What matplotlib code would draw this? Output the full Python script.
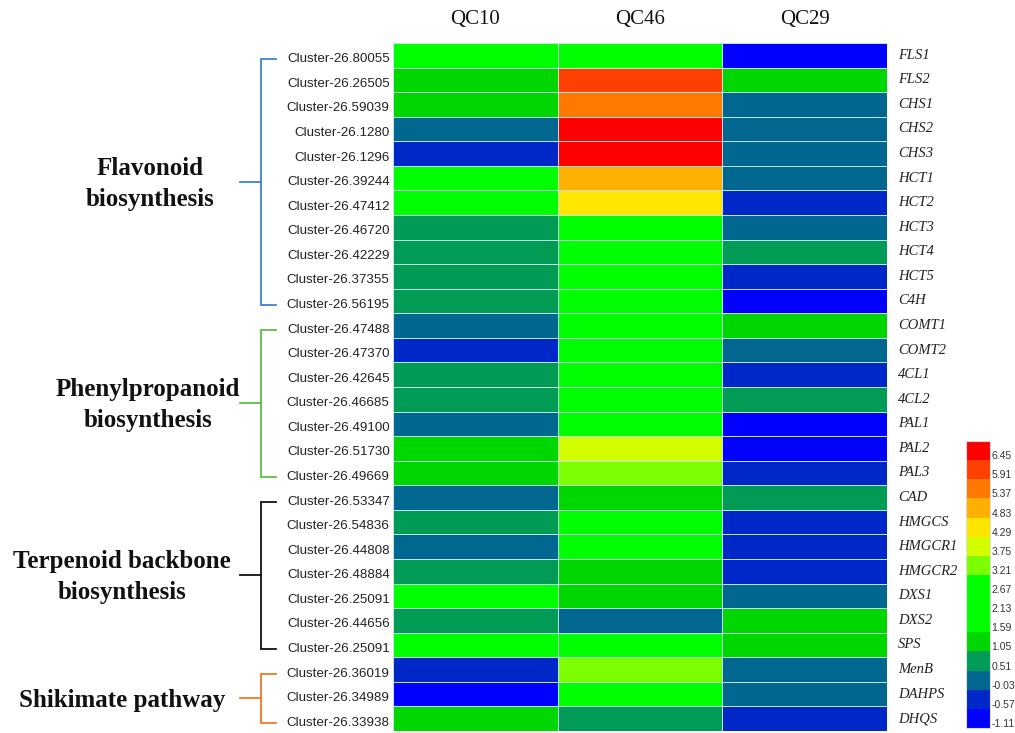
import numpy as np
import matplotlib
matplotlib.use("Agg")
import matplotlib.pyplot as plt
from matplotlib.colors import ListedColormap, BoundaryNorm
from matplotlib.transforms import ScaledTranslation

# ---------------- data ----------------
samples = ["QC10", "QC46", "QC29"]
clusters = ["Cluster-26.80055", "Cluster-26.26505", "Cluster-26.59039", "Cluster-26.1280",
            "Cluster-26.1296", "Cluster-26.39244", "Cluster-26.47412", "Cluster-26.46720",
            "Cluster-26.42229", "Cluster-26.37355", "Cluster-26.56195", "Cluster-26.47488",
            "Cluster-26.47370", "Cluster-26.42645", "Cluster-26.46685", "Cluster-26.49100",
            "Cluster-26.51730", "Cluster-26.49669", "Cluster-26.53347", "Cluster-26.54836",
            "Cluster-26.44808", "Cluster-26.48884", "Cluster-26.25091", "Cluster-26.44656",
            "Cluster-26.25091", "Cluster-26.36019", "Cluster-26.34989", "Cluster-26.33938"]
genes = ["FLS1", "FLS2", "CHS1", "CHS2", "CHS3", "HCT1", "HCT2", "HCT3", "HCT4", "HCT5",
         "C4H", "COMT1", "COMT2", "4CL1", "4CL2", "PAL1", "PAL2", "PAL3", "CAD", "HMGCS",
         "HMGCR1", "HMGCR2", "DXS1", "DXS2", "SPS", "MenB", "DAHPS", "DHQS"]
qc10 = [2.40, 1.30, 1.35, 0.20, -0.30, 2.30, 2.35, 0.80, 0.75, 0.80, 0.78, 0.22, -0.32, 0.80,
        0.78, 0.25, 1.30, 1.32, 0.20, 0.78, 0.22, 0.80, 2.30, 0.80, 2.35, -0.30, -0.85, 1.30]
qc46 = [2.30, 6.20, 5.60, 6.75, 6.70, 5.10, 4.55, 2.40, 2.40, 2.35, 2.30, 2.40, 2.35, 2.40,
        2.30, 2.40, 4.00, 3.50, 1.30, 2.30, 2.40, 1.35, 1.30, 0.22, 2.35, 3.45, 2.30, 0.80]
qc29 = [-0.85, 1.30, 0.22, 0.20, 0.24, 0.22, -0.30, 0.20, 0.78, -0.32, -0.86, 1.32, 0.22,
        -0.30, 0.80, -0.85, -0.88, -0.30, 0.78, -0.30, -0.32, -0.30, 0.22, 1.30, 1.32, 0.24,
        0.20, -0.30]
cbar_edges = [-1.11, -0.57, -0.03, 0.51, 1.05, 1.59, 2.13, 2.67, 3.21, 3.75, 4.29, 4.83,
              5.37, 5.91, 6.45, 6.99]
bin_colors = ["#0000FF", "#0028C8", "#006890", "#009B55", "#00D700", "#00FF00", "#00FF00",
              "#00FF00", "#7CFF00", "#D4FF00", "#FFE600", "#FFB000", "#FF7800", "#FF4000",
              "#FF0000"]
groups = [("Flavonoid\nbiosynthesis", 0, 10, "#3D80D8", 150),
          ("Phenylpropanoid\nbiosynthesis", 11, 17, "#5DBE45", 148),
          ("Terpenoid backbone\nbiosynthesis", 18, 24, "#111111", 122),
          ("Shikimate pathway", 25, 27, "#F07A22", 122)]

# ---------------- figure ----------------
W, H = 1015, 733
fig = plt.figure(figsize=(W / 100, H / 100), dpi=100)

def px_rect(x0, y0, x1, y1):
    return [x0 / W, 1 - y1 / H, (x1 - x0) / W, (y1 - y0) / H]

data = np.array([qc10, qc46, qc29]).T
nrows = data.shape[0]
cmap = ListedColormap(bin_colors)
norm = BoundaryNorm(cbar_edges, cmap.N)

hm_top, hm_bot = 43, 731
ax = fig.add_axes(px_rect(393, hm_top, 887, hm_bot))
ax.pcolormesh(np.arange(4), np.arange(nrows + 1), data, cmap=cmap, norm=norm,
              edgecolor="#BFE3E3", linewidth=0.5)
ax.set_xlim(0, 3)
ax.set_ylim(nrows, 0)
ax.set_xticks([])
ax.set_yticks([])
for s in ax.spines.values():
    s.set_visible(False)

# column labels
for i, s in enumerate(samples):
    ax.text(i + 0.5, -0.55, s, ha="center", va="bottom", fontsize=15,
            family="Liberation Serif", color="#111111")

# row labels (left) and gene labels (right)
row_h = (hm_bot - hm_top) / nrows
down = ScaledTranslation(0, -4 / 100, fig.dpi_scale_trans)
for r, (c, g) in enumerate(zip(clusters, genes)):
    ax.text(-0.02, r + 0.5, c, ha="right", va="center", fontsize=9.6,
            family="Liberation Sans", color="#222222",
            transform=ax.transData + down)
    ax.text(3.065, r + 0.5, g, ha="left", va="center", fontsize=10.5,
            family="Liberation Serif", style="italic", color="#222222")

# brackets
bax = fig.add_axes([0, 0, 1, 1], facecolor="none")
bax.set_xlim(0, W)
bax.set_ylim(H, 0)
bax.axis("off")
for label, r0, r1, col, lx in groups:
    y0 = hm_top + (r0 + 0.5) * row_h + 4
    y1 = hm_top + (r1 + 0.5) * row_h + 4
    xv = 261
    bax.plot([276, xv, xv, 276], [y0, y0, y1, y1], color=col, lw=1.3,
             solid_joinstyle="miter")
    ym = (y0 + y1) / 2
    bax.plot([240, xv], [ym, ym], color=col, lw=1.3)
    bax.text(lx, ym + 2, label, ha="center", va="center", fontsize=18, fontweight="bold",
             family="Liberation Serif", linespacing=1.45, color="#111111")

# colorbar
cax = fig.add_axes(px_rect(966, 441, 990, 728))
cb = fig.colorbar(matplotlib.cm.ScalarMappable(norm=norm, cmap=cmap), cax=cax,
                  ticks=cbar_edges[:-1], spacing="uniform")
cb.minorticks_off()
cb.outline.set_edgecolor("#DDDDDD")
cb.outline.set_linewidth(0.8)
cax.tick_params(length=0, pad=1, labelsize=7.5, labelcolor="#333333")
cax.set_yticklabels([f"{v:.2f}" for v in cbar_edges[:-1]], family="Liberation Sans")
up = ScaledTranslation(0, 5 / 100, fig.dpi_scale_trans)
for t in cax.get_yticklabels():
    t.set_transform(t.get_transform() + up)

fig.savefig("out.png", dpi=100)
